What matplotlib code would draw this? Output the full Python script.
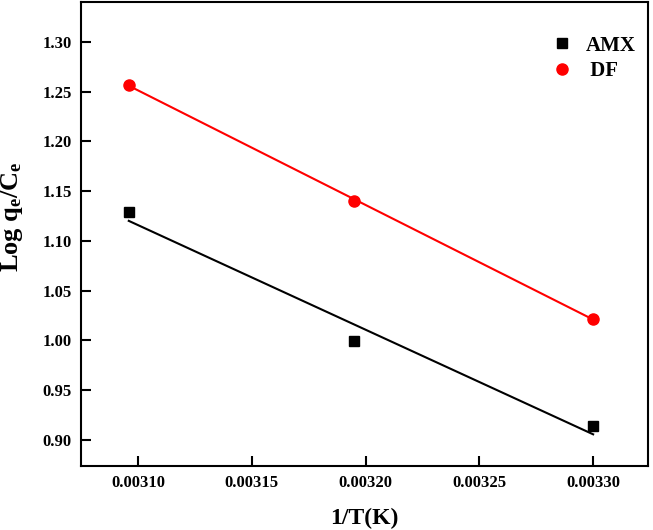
import numpy as np
import matplotlib
matplotlib.use("Agg")
import matplotlib.pyplot as plt

# 1/T values for T = 323, 313, 303 K
inv_T = [0.003096, 0.003195, 0.003300]
amx_log = [1.129, 0.999, 0.914]
df_log = [1.257, 1.140, 1.022]

x_ticks = [0.00310, 0.00315, 0.00320, 0.00325, 0.00330]
y_ticks = [0.90, 0.95, 1.00, 1.05, 1.10, 1.15, 1.20, 1.25, 1.30]

plt.rcParams['font.family'] = ['Liberation Serif', 'DejaVu Serif']
plt.rcParams['font.weight'] = 'bold'
plt.rcParams['mathtext.fontset'] = 'custom'
plt.rcParams['mathtext.rm'] = 'Liberation Serif:bold'
plt.rcParams['mathtext.it'] = 'Liberation Serif:bold'
plt.rcParams['mathtext.default'] = 'regular'

fig = plt.figure(figsize=(6.53, 5.30), dpi=100)
ax = fig.add_axes([0.124, 0.121, 0.868, 0.875])

# linear fits drawn between the first and last points
x_arr = np.array(inv_T)
for vals, col in [(amx_log, 'black'), (df_log, '#ff0000')]:
    k, b = np.polyfit(x_arr, np.array(vals), 1)
    ax.plot(x_arr[[0, -1]], k * x_arr[[0, -1]] + b, color=col, lw=1.5, zorder=2)

ax.plot(inv_T, amx_log, 's', color='black', ms=7.2, ls='none', label='AMX', zorder=3)
ax.plot(inv_T, df_log, 'o', color='#ff0000', ms=8, ls='none', label=' DF', zorder=3)

ax.set_xlim(0.003075, 0.003324)
ax.set_ylim(0.874, 1.34)
ax.set_xticks(x_ticks)
ax.set_xticklabels([f"{v:.5f}" for v in x_ticks])
ax.set_yticks(y_ticks)
ax.set_yticklabels([f"{v:.2f}" for v in y_ticks])

ax.tick_params(direction='in', length=7, width=1.5, labelsize=12, pad=6.5,
               top=False, right=False)
for s in ax.spines.values():
    s.set_linewidth(1.5)

ax.set_xlabel('1/T(K)', fontsize=17, fontweight='bold', labelpad=12)
ax.set_ylabel('Log q$_e$/C$_e$', fontsize=19, fontweight='bold')
ax.yaxis.set_label_coords(-0.098, 0.537)

leg = ax.legend(loc='upper right', bbox_to_anchor=(1.004, 0.959), frameon=False,
                fontsize=15, handlelength=1.0, handletextpad=0.65,
                labelspacing=0.25, borderaxespad=0.3)

fig.savefig('out.png', dpi=100)
